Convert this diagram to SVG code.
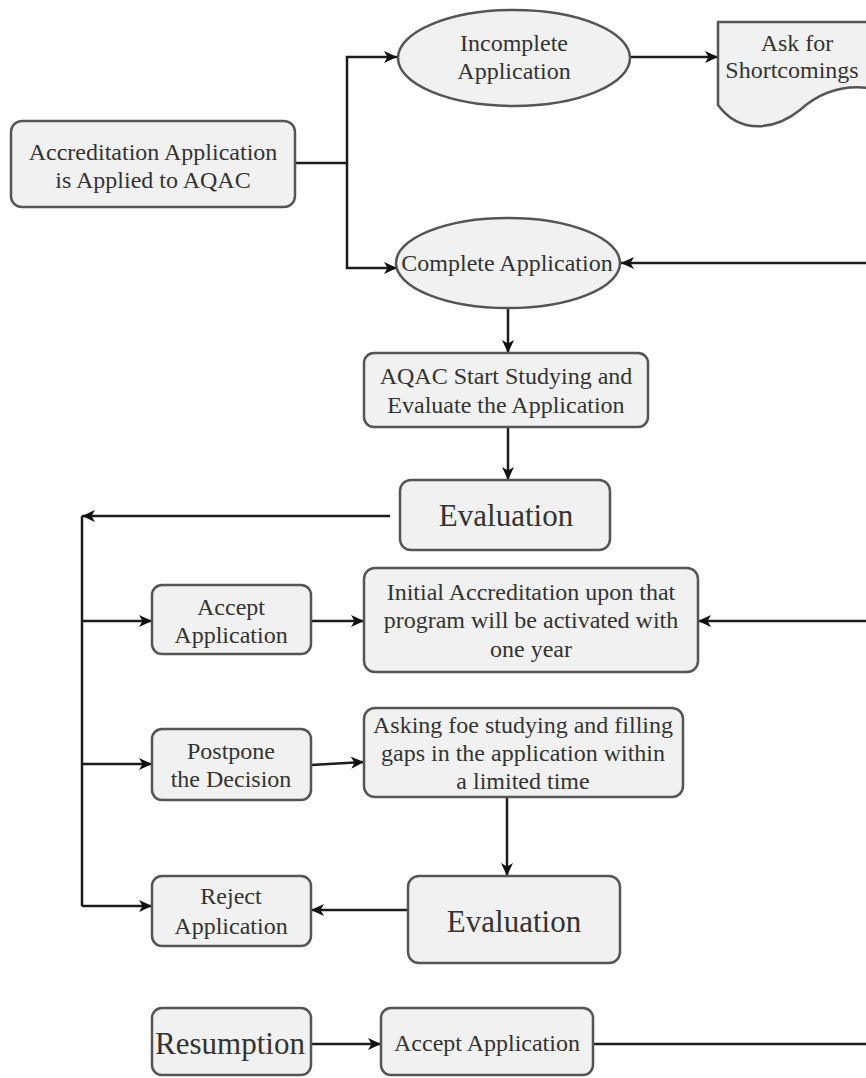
<svg xmlns="http://www.w3.org/2000/svg" width="866" height="1078" viewBox="0 0 866 1078">
  <defs>
    <marker id="arrow" markerUnits="userSpaceOnUse" markerWidth="14" markerHeight="12" refX="13" refY="6" orient="auto">
      <path d="M0,0 L13,6 L0,12 L3.5,6 Z" fill="#111"/>
    </marker>
    <style>
      .node { fill: #f1f1f1; stroke: #555; stroke-width: 2.5; }
      .lbl { font-family: "Liberation Serif", "Times New Roman", serif; font-size: 24px; fill: #333; text-anchor: middle; }
      .big { font-size: 31px; }
      .conn { fill: none; stroke: #1c1c1c; stroke-width: 2.5; }
      .arr { marker-end: url(#arrow); }
    </style>
  </defs>
  <rect width="866" height="1078" fill="#ffffff"/>

  <!-- connectors -->
  <g id="connectors">
    <path class="conn" d="M295,163 H347" stroke-width="4"/>
    <path class="conn arr" d="M347,163 V57 H397"/>
    <path class="conn arr" d="M347,163 V268 H397"/>
    <path class="conn arr" d="M630,57 H718"/>
    <path class="conn arr" d="M866,263 H621"/>
    <path class="conn arr" d="M508,307 V353"/>
    <path class="conn arr" d="M508,427 V480"/>
    <path class="conn arr" d="M390,516 H82"/>
    <path class="conn" d="M82,516 V906"/>
    <path class="conn arr" d="M82,621 H152"/>
    <path class="conn arr" d="M311,621 H364"/>
    <path class="conn arr" d="M866,621 H698"/>
    <path class="conn arr" d="M82,764 H152"/>
    <path class="conn arr" d="M311,765 L364,762"/>
    <path class="conn arr" d="M507,797 V876"/>
    <path class="conn arr" d="M408,910 H311"/>
    <path class="conn arr" d="M82,906 H152"/>
    <path class="conn arr" d="M311,1044 H381"/>
    <path class="conn" d="M593,1044 H866"/>
  </g>

  <g id="applied">
    <rect class="node" x="11" y="121" width="284" height="86" rx="11"/>
    <text class="lbl" x="153" y="160">Accreditation Application</text>
    <text class="lbl" x="153" y="188">is Applied to AQAC</text>
  </g>

  <g id="incomplete">
    <ellipse class="node" cx="514" cy="58" rx="116" ry="48"/>
    <text class="lbl" x="514" y="51">Incomplete</text>
    <text class="lbl" x="514" y="79">Application</text>
  </g>

  <g id="shortcomings">
    <path class="node" d="M718,22 H880 V90 C845,82 820,92 800,110 C775,130 740,135 718,105 Z"/>
    <text class="lbl" x="797" y="51">Ask for</text>
    <text class="lbl" x="792" y="78">Shortcomings</text>
  </g>

  <g id="complete">
    <ellipse class="node" cx="508" cy="263" rx="112" ry="45"/>
    <text class="lbl" x="507" y="271">Complete Application</text>
  </g>

  <g id="studying">
    <rect class="node" x="364" y="353" width="284" height="74" rx="10"/>
    <text class="lbl" x="506" y="384">AQAC Start Studying and</text>
    <text class="lbl" x="506" y="413">Evaluate the Application</text>
  </g>

  <g id="evaluation1">
    <rect class="node" x="400" y="480" width="210" height="70" rx="11"/>
    <text class="lbl big" x="506" y="526">Evaluation</text>
  </g>

  <g id="accept">
    <rect class="node" x="152" y="585" width="159" height="69" rx="10"/>
    <text class="lbl" x="231" y="615">Accept</text>
    <text class="lbl" x="231" y="643">Application</text>
  </g>

  <g id="initial">
    <rect class="node" x="364" y="568" width="334" height="104" rx="11"/>
    <text class="lbl" x="531" y="600">Initial Accreditation upon that</text>
    <text class="lbl" x="531" y="628">program will be activated with</text>
    <text class="lbl" x="531" y="657">one year</text>
  </g>

  <g id="postpone">
    <rect class="node" x="152" y="729" width="159" height="71" rx="10"/>
    <text class="lbl" x="231" y="759">Postpone</text>
    <text class="lbl" x="231" y="787">the Decision</text>
  </g>

  <g id="asking">
    <rect class="node" x="364" y="708" width="319" height="89" rx="11"/>
    <text class="lbl" x="523" y="733">Asking foe studying and filling</text>
    <text class="lbl" x="523" y="761">gaps in the application within</text>
    <text class="lbl" x="523" y="789">a limited time</text>
  </g>

  <g id="evaluation2">
    <rect class="node" x="408" y="876" width="212" height="87" rx="11"/>
    <text class="lbl big" x="514" y="932">Evaluation</text>
  </g>

  <g id="reject">
    <rect class="node" x="152" y="876" width="159" height="70" rx="10"/>
    <text class="lbl" x="231" y="904">Reject</text>
    <text class="lbl" x="231" y="934">Application</text>
  </g>

  <g id="resumption">
    <rect class="node" x="152" y="1008" width="159" height="67" rx="10"/>
    <text class="lbl big" x="230" y="1054">Resumption</text>
  </g>

  <g id="accept2">
    <rect class="node" x="381" y="1008" width="212" height="67" rx="10"/>
    <text class="lbl" x="487" y="1051">Accept Application</text>
  </g>
</svg>
